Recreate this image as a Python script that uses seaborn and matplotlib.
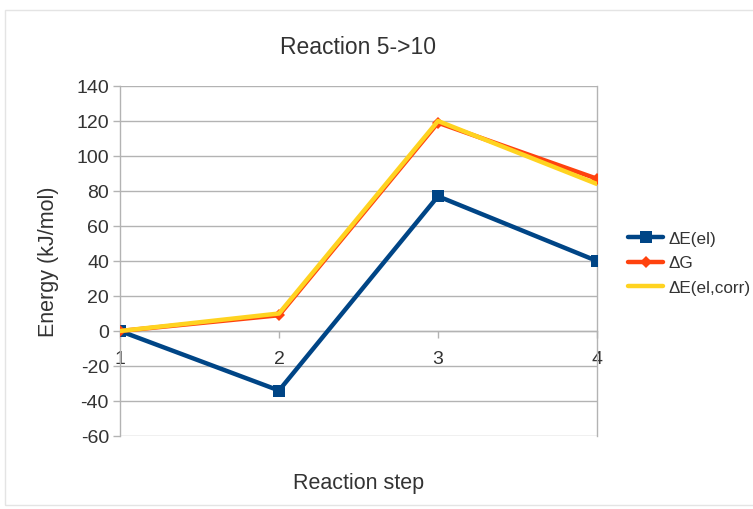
import matplotlib
matplotlib.use("Agg")
import matplotlib.pyplot as plt
import seaborn as sns
import pandas as pd
from matplotlib.patches import Rectangle

steps = [1, 2, 3, 4]
dE_el = [0, -34, 77, 40]
dG = [0, 9, 119, 87]
dE_el_corr = [0, 10, 120, 84]
series_names = ["ΔE(el)", "ΔG", "ΔE(el,corr)"]
colors = ["#004586", "#ff420e", "#ffd320"]
yticks = list(range(-60, 141, 20))

sns.set_theme(style="white", rc={"xtick.labelsize": 14, "ytick.labelsize": 14})
plt.rcParams["font.family"] = ["Liberation Sans", "DejaVu Sans"]
plt.rcParams["axes.unicode_minus"] = False

df = pd.DataFrame({
    "step": steps * 3,
    "energy": dE_el + dG + dE_el_corr,
    "series": [series_names[0]] * 4 + [series_names[1]] * 4 + [series_names[2]] * 4,
})

txt = "#333333"
fig = plt.figure(figsize=(7.53, 5.10), dpi=100)
fig.patches.append(Rectangle((5 / 753, 4 / 510), 1.2, (506 - 11) / 510, transform=fig.transFigure,
                             fill=False, edgecolor="#e4e4e4", lw=1))
ax = fig.add_axes([120 / 753, 1 - 437 / 510, 477 / 753, 350 / 510])

markers = {series_names[0]: "s", series_names[1]: "D", series_names[2]: None}
msizes = {series_names[0]: 8.5, series_names[1]: 6, series_names[2]: 0}
for name, col in zip(series_names, colors):
    sub = df[df["series"] == name]
    sns.lineplot(data=sub, x="step", y="energy", ax=ax, color=col, lw=3.2,
                 marker=markers[name], markersize=msizes[name], markeredgewidth=0,
                 label=name, zorder=3)

ax.set_xlim(1, 4)
ax.set_ylim(-60, 140)
ax.yaxis.grid(True, color="#b3b3b3", lw=1)
ax.xaxis.grid(False)
ax.set_axisbelow(True)

ax.spines["bottom"].set_position(("data", 0))
for s in ["bottom", "left", "right"]:
    ax.spines[s].set_color("#b3b3b3")
    ax.spines[s].set_linewidth(1)
ax.spines["top"].set_visible(False)

ax.set_yticks(yticks)
ax.set_yticklabels([str(v) for v in yticks], fontsize=14)
ax.set_xticks(steps)
ax.set_xticklabels([str(s) for s in steps], fontsize=14)
ax.tick_params(axis="x", direction="out", length=5, width=1, color="#b3b3b3", pad=9,
               labelsize=14, labelcolor=txt, bottom=True)
ax.tick_params(axis="y", direction="out", length=5, width=1, color="#b3b3b3", pad=3,
               labelsize=14, labelcolor=txt, left=True)

ax.set_title("Reaction 5->10", fontsize=16.5, color=txt, pad=24)
ax.set_xlabel("Reaction step", fontsize=15.5, color=txt)
ax.xaxis.set_label_coords(0.5, -0.103)
ax.set_ylabel("Energy (kJ/mol)", fontsize=15.5, color=txt)
ax.yaxis.set_label_coords(-0.128, 0.5)

ax.legend(loc="center left", bbox_to_anchor=(628 / 753, 1 - 264 / 510), bbox_transform=fig.transFigure,
          frameon=False, fontsize=12.3, handlelength=2.05, handletextpad=0.3, labelspacing=0.58,
          labelcolor=txt, borderpad=0, borderaxespad=0)

fig.savefig("out.png", dpi=100)
